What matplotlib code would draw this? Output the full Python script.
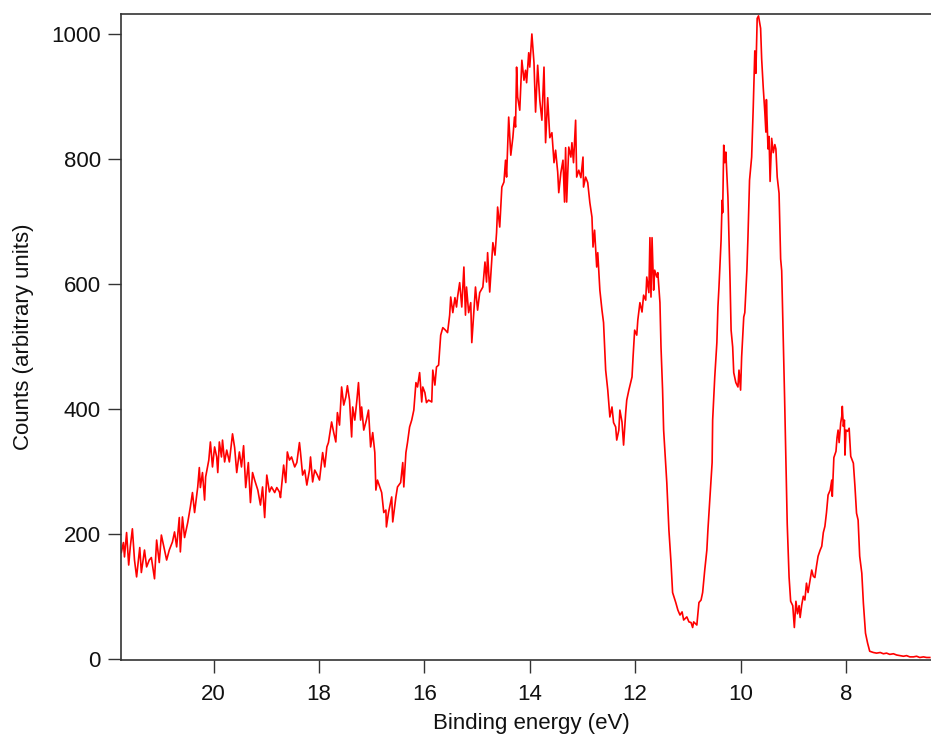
import matplotlib
matplotlib.use("Agg")
import matplotlib.pyplot as plt

energy_ev = [
    21.75, 21.71, 21.69, 21.65, 21.61, 21.58, 21.54, 21.50, 21.46, 21.40, 21.37, 21.31, 21.27, 21.22, 21.18,
    21.12, 21.08, 21.03, 20.99, 20.93, 20.89, 20.84, 20.78, 20.74, 20.70, 20.65, 20.63, 20.59, 20.55, 20.49,
    20.44, 20.40, 20.36, 20.30, 20.27, 20.25, 20.21, 20.17, 20.15, 20.09, 20.06, 20.02, 19.98, 19.94, 19.92,
    19.89, 19.85, 19.83, 19.79, 19.75, 19.70, 19.64, 19.60, 19.56, 19.51, 19.47, 19.43, 19.39, 19.34, 19.30,
    19.26, 19.22, 19.16, 19.11, 19.07, 19.03, 18.99, 18.94, 18.90, 18.84, 18.80, 18.75, 18.73, 18.67, 18.63,
    18.60, 18.56, 18.52, 18.46, 18.42, 18.37, 18.35, 18.31, 18.27, 18.23, 18.18, 18.16, 18.12, 18.08, 18.03,
    17.99, 17.93, 17.89, 17.85, 17.82, 17.76, 17.72, 17.68, 17.65, 17.61, 17.57, 17.53, 17.49, 17.46, 17.42,
    17.38, 17.36, 17.32, 17.28, 17.25, 17.21, 17.19, 17.15, 17.10, 17.06, 17.02, 16.98, 16.94, 16.92, 16.89,
    16.81, 16.77, 16.73, 16.72, 16.68, 16.62, 16.60, 16.54, 16.51, 16.45, 16.41, 16.39, 16.35, 16.32, 16.28,
    16.24, 16.20, 16.16, 16.13, 16.09, 16.05, 16.03, 15.99, 15.96, 15.92, 15.86, 15.84, 15.80, 15.77, 15.73,
    15.69, 15.65, 15.60, 15.56, 15.52, 15.50, 15.46, 15.42, 15.39, 15.37, 15.33, 15.29, 15.25, 15.22, 15.20,
    15.16, 15.12, 15.10, 15.06, 15.03, 14.99, 14.95, 14.89, 14.85, 14.82, 14.80, 14.76, 14.70, 14.66, 14.63,
    14.61, 14.57, 14.53, 14.49, 14.46, 14.44, 14.40, 14.36, 14.32, 14.29, 14.27, 14.25, 14.23, 14.19, 14.15,
    14.11, 14.08, 14.06, 14.02, 14.00, 13.96, 13.92, 13.89, 13.85, 13.81, 13.77, 13.73, 13.70, 13.66, 13.62,
    13.58, 13.54, 13.51, 13.47, 13.45, 13.41, 13.37, 13.34, 13.32, 13.30, 13.26, 13.22, 13.20, 13.17, 13.13,
    13.11, 13.07, 13.03, 12.99, 12.98, 12.94, 12.90, 12.86, 12.82, 12.80, 12.77, 12.73, 12.71, 12.67, 12.63,
    12.60, 12.56, 12.52, 12.48, 12.44, 12.41, 12.37, 12.35, 12.31, 12.29, 12.25, 12.22, 12.18, 12.16, 12.12,
    12.06, 12.04, 12.01, 11.97, 11.95, 11.91, 11.87, 11.84, 11.80, 11.78, 11.74, 11.72, 11.70, 11.68, 11.65,
    11.63, 11.59, 11.57, 11.53, 11.51, 11.48, 11.46, 11.40, 11.36, 11.32, 11.29, 11.23, 11.19, 11.15, 11.11,
    11.08, 11.02, 10.98, 10.94, 10.91, 10.89, 10.83, 10.79, 10.75, 10.72, 10.68, 10.64, 10.62, 10.58, 10.54,
    10.53, 10.49, 10.45, 10.43, 10.41, 10.37, 10.35, 10.34, 10.32, 10.30, 10.28, 10.24, 10.22, 10.20, 10.18,
    10.15, 10.13, 10.09, 10.05, 10.03, 10.00, 9.98, 9.94, 9.92, 9.88, 9.86, 9.83, 9.79, 9.76, 9.73,
    9.71, 9.685, 9.66, 9.62, 9.60, 9.57, 9.54, 9.52, 9.51, 9.48, 9.46, 9.44, 9.41, 9.38, 9.35,
    9.33, 9.305, 9.27, 9.24, 9.22, 9.19, 9.165, 9.14, 9.115, 9.08, 9.05, 9.01, 8.98, 8.95, 8.92,
    8.89, 8.87, 8.84, 8.81, 8.78, 8.75, 8.72, 8.68, 8.65, 8.62, 8.59, 8.56, 8.53, 8.49, 8.46,
    8.43, 8.40, 8.37, 8.34, 8.30, 8.27, 8.26, 8.23, 8.19, 8.17, 8.15, 8.13, 8.10, 8.08, 8.07,
    8.05, 8.03, 8.02, 8.00, 7.97, 7.94, 7.91, 7.86, 7.83, 7.80, 7.77, 7.74, 7.70, 7.67, 7.63,
    7.59, 7.55, 7.48, 7.42, 7.35, 7.29, 7.23, 7.17, 7.10, 7.04, 6.98, 6.91, 6.85, 6.79, 6.72,
    6.66, 6.60, 6.53, 6.47, 6.41,
]

counts = [
    170, 186, 163, 202, 150, 179, 208, 158, 131, 178, 138, 174, 147, 158, 162,
    128, 190, 154, 198, 174, 158, 174, 187, 203, 179, 226, 171, 227, 194, 218,
    243, 266, 234, 275, 306, 274, 298, 254, 291, 318, 347, 307, 339, 323, 298,
    347, 323, 350, 315, 334, 315, 360, 338, 298, 331, 307, 341, 274, 314, 250,
    298, 286, 270, 246, 275, 226, 294, 267, 275, 266, 274, 267, 258, 310, 282,
    331, 318, 323, 307, 314, 346, 330, 294, 302, 278, 302, 323, 283, 302, 294,
    286, 330, 307, 339, 346, 379, 362, 347, 394, 374, 435, 406, 419, 437, 414,
    355, 403, 382, 414, 442, 382, 403, 366, 382, 398, 339, 362, 330, 270, 286,
    266, 234, 238, 211, 234, 259, 219, 259, 275, 282, 314, 275, 330, 346, 371,
    382, 398, 442, 435, 458, 411, 435, 426, 410, 414, 411, 462, 438, 467, 470,
    518, 530, 526, 522, 550, 579, 554, 578, 563, 579, 602, 563, 627, 550, 595,
    554, 570, 506, 558, 595, 558, 586, 595, 635, 603, 650, 587, 666, 646, 682,
    723, 691, 755, 763, 798, 771, 867, 806, 835, 867, 851, 947, 899, 878, 958,
    926, 942, 922, 970, 947, 1000, 954, 875, 950, 894, 862, 947, 826, 898, 834,
    842, 794, 814, 779, 746, 778, 798, 731, 818, 731, 819, 803, 826, 794, 862,
    771, 782, 770, 803, 755, 771, 762, 730, 707, 659, 686, 627, 650, 590, 558,
    538, 462, 430, 387, 403, 378, 371, 350, 366, 398, 379, 342, 394, 414, 430,
    451, 483, 526, 518, 542, 570, 555, 582, 574, 611, 586, 674, 579, 674, 590,
    622, 611, 618, 570, 499, 430, 366, 282, 206, 154, 106, 90, 78, 70, 75,
    62, 67, 59, 58, 50, 59, 54, 90, 94, 106, 142, 174, 206, 259, 314,
    382, 451, 506, 563, 595, 670, 734, 714, 822, 794, 811, 739, 675, 606, 526,
    499, 458, 442, 435, 462, 430, 483, 547, 554, 622, 675, 766, 803, 882, 973,
    937, 1025, 1029, 1009, 960, 914, 875, 843, 895, 816, 836, 764, 833, 810, 823,
    816, 771, 745, 640, 621, 510, 418, 314, 216, 131, 92, 85, 50, 92, 72,
    85, 66, 86, 100, 94, 121, 106, 126, 142, 132, 130, 148, 164, 174, 180,
    202, 212, 234, 262, 270, 286, 260, 322, 332, 354, 366, 346, 378, 388, 404,
    372, 382, 326, 366, 364, 369, 324, 313, 276, 233, 222, 164, 137, 89, 41,
    25, 12, 10, 9, 10, 8, 9, 7, 8, 6, 5, 4, 5, 3, 3,
    4, 2, 3, 2, 2,
]

x_ticks = [20, 18, 16, 14, 12, 10, 8]
y_ticks = [0, 200, 400, 600, 800, 1000]
x_label = "Binding energy (eV)"
y_label = "Counts (arbitrary units)"

plt.rcParams["font.family"] = ["Liberation Sans", "DejaVu Sans"]

fig = plt.figure(figsize=(9.31, 7.40), dpi=100)
ax = fig.add_axes([121 / 931, 1 - 660 / 740, 1 - 121 / 931, (660 - 14) / 740])

ax.plot(energy_ev, counts, color="#ff0000", lw=1.2)

ax.set_xlim(21.756, 6.387)
ax.set_ylim(-2, 1032)
ax.set_xticks(x_ticks)
ax.set_yticks(y_ticks)
ax.tick_params(axis="both", direction="out", length=9.5, width=1.0, color="#333333",
               labelsize=16, labelcolor="#111111")
ax.tick_params(axis="x", pad=8)
ax.tick_params(axis="y", pad=5)

for side in ("left", "bottom", "top"):
    ax.spines[side].set_color("#333333")
    ax.spines[side].set_linewidth(1.2)
ax.spines["right"].set_visible(False)

ax.set_xlabel(x_label, fontsize=16, color="#111111")
ax.set_ylabel(y_label, fontsize=16, color="#111111")
ax.xaxis.set_label_coords(0.507, -0.082)
ax.yaxis.set_label_coords(-0.107, 0.5)

fig.savefig("out.png", dpi=100)
